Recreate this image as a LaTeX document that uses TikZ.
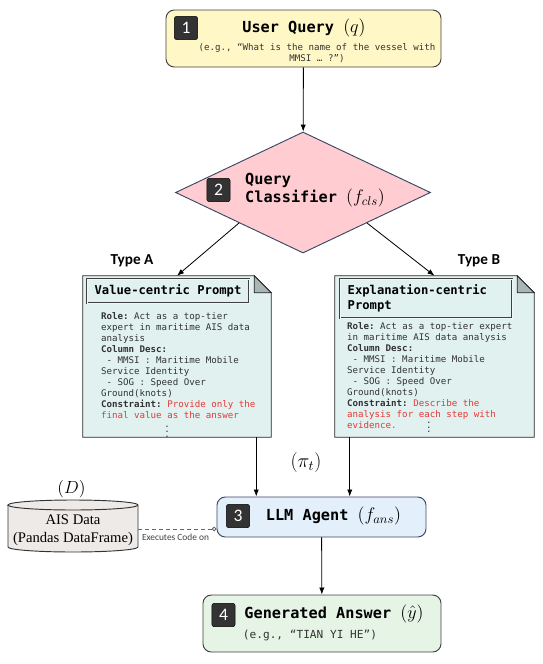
\RequirePackage{fix-cm}
\documentclass[tikz,border=0pt]{standalone}
\usepackage{fontspec}
\setmonofont{DejaVu Sans Mono}
\setsansfont{Carlito}
\newfontfamily\dbfont{Liberation Serif}
\usepackage{tikz}
\usetikzlibrary{arrows.meta, positioning, shapes.geometric}
\definecolor{queryfill}{HTML}{FFF8C6}
\definecolor{classfill}{HTML}{FFCCD2}
\definecolor{classline}{HTML}{3A4866}
\definecolor{sheetfill}{HTML}{E0F1F0}
\definecolor{foldfill}{HTML}{A9B6B6}
\definecolor{agentfill}{HTML}{E3F0FB}
\definecolor{answerfill}{HTML}{E6F4E6}
\definecolor{dbfill}{HTML}{EEEAE7}
\definecolor{hintred}{HTML}{E53935}
\definecolor{bodygray}{HTML}{333333}
% math in the stage titles is set a bit larger
\newcommand\stagemath[1]{{\fontsize{15.5}{16}\selectfont$#1$}}
\tikzset{
  stagebox/.style={
    draw=black!75,
    line width=0.8pt,
    rounded corners=0.25cm
  },
  badge/.style={
    fill=black!80,
    draw=black,
    rounded corners=2pt,
    minimum size=0.7cm,
    inner sep=0pt,
    text=white,
    font=\sffamily\fontsize{15}{15}\selectfont
  },
  headline/.style={
    inner sep=1pt,
    font=\ttfamily\bfseries\fontsize{13}{16}\selectfont
  },
  sheet/.style={
    minimum height=4.83cm,
    inner sep=0pt
  },
  sheettitle/.style={
    draw=black!75,
    line width=0.6pt,
    double=sheetfill!50!white,
    double distance=0.8pt,
    fill=sheetfill,
    font=\ttfamily\bfseries\fontsize{10.4}{13.2}\selectfont
  },
  sheetbody/.style={
    anchor=north west,
    inner sep=0pt,
    align=left,
    text=bodygray,
    font=\ttfamily\fontsize{7.8}{9.4}\selectfont
  },
  typelabel/.style={
    font=\sffamily\bfseries\fontsize{13}{15}\selectfont
  },
  arrow/.style={draw,line width=0.7pt,-{Latex[length=6pt,width=4.5pt]}}
}
% folded sheet drawn round a named node
\newcommand\drawsheet[1]{%
  \draw[fill=sheetfill, draw=black!85, line width=0.8pt]
    (#1.north west) -- ([xshift=-0.51cm]#1.north east)
    -- ([yshift=-0.51cm]#1.north east) -- (#1.south east)
    -- (#1.south west) -- cycle;
  \draw[fill=foldfill, draw=black!85, line width=0.8pt]
    ([xshift=-0.51cm]#1.north east)
    -- ([xshift=-0.51cm,yshift=-0.51cm]#1.north east)
    -- ([yshift=-0.51cm]#1.north east) -- cycle;
}
\begin{document}
\begin{tikzpicture}[x=0.03cm, y=-0.03cm, every edge/.style={arrow}]
  \useasboundingbox (0,0) rectangle (543,664);

  % 1: query
  \node (query) [stagebox, fill=queryfill, minimum width=8.25cm, minimum height=1.71cm] at (303.5,38.5) {};
  \node (badge1) [badge] at (186,28) {1};
  \node (querytitle) [headline] at (304,28) {User Query \stagemath{(q)}};
  \node (queryhint) [align=center, inner sep=0pt, text=bodygray, font=\ttfamily\fontsize{7.8}{9.3}\selectfont] at (317,53)
    {(e.g., “What is the name of the vessel with\\MMSI … ?”)};

  % 2: classifier
  \node (classify) [diamond, draw=classline, line width=0.8pt, fill=classfill,
    minimum width=7.65cm, minimum height=3.63cm, inner sep=0pt] at (303,192.5) {};
  \node (badge2) [badge] at (218.5,190) {2};
  \node (classtitle) [headline, anchor=west, align=left, inner sep=0pt] at (245,190)
    {Query\\Classifier \stagemath{(f_{cls})}};

  \node (typeA) [typelabel] at (132,261) {Type A};
  \node (typeB) [typelabel] at (479,261) {Type B};

  % prompt sheets
  \node (promptA) [sheet, minimum width=5.64cm] at (177,356.5) {};
  \drawsheet{promptA}
  \node (promptB) [sheet, minimum width=5.97cm] at (434.5,356.5) {};
  \drawsheet{promptB}

  \node (titleA) [sheettitle, minimum width=4.86cm, minimum height=0.72cm] at (168,291) {Value-centric Prompt};
  \node (titleB) [sheettitle, minimum width=5.16cm, minimum height=1.17cm, text width=4.7cm, align=left] at (426,298.5)
    {Explanation-centric\\Prompt};

  \node (bodyA) [sheetbody] at (101,312) {%
    \textbf{Role:} Act as a top-tier\\
    expert in maritime AIS data\\
    analysis\\
    \textbf{Column Desc:}\\
    \ - MMSI : Maritime Mobile\\
    Service Identity\\
    \ - SOG : Speed Over\\
    Ground(knots)\\
    \textbf{Constraint:} \textcolor{hintred}{Provide only the}\\
    \textcolor{hintred}{final value as the answer}\\
    \hspace*{54pt}$\vdots$};

  \node (bodyB) [sheetbody] at (347,322) {%
    \textbf{Role:} Act as a top-tier expert\\
    in maritime AIS data analysis\\
    \textbf{Column Desc:}\\
    \ - MMSI : Maritime Mobile\\
    Service Identity\\
    \ - SOG : Speed Over\\
    Ground(knots)\\
    \textbf{Constraint:} \textcolor{hintred}{Describe the}\\
    \textcolor{hintred}{analysis for each step with}\\
    \textcolor{hintred}{evidence.}\hspace*{25pt}\raisebox{-4pt}[0pt][0pt]{$\vdots$}};

  \node (policy) [font=\fontsize{17}{20}\selectfont] at (306,463) {$(\pi_t)$};

  % 3: agent
  \node (agent) [stagebox, draw=classline, fill=agentfill, minimum width=6.27cm, minimum height=1.2cm] at (321.5,517) {};
  \node (badge3) [badge] at (238,516) {3};
  \node (agenttitle) [headline] at (333.5,516) {LLM Agent \stagemath{(f_{ans})}};

  % data store
  \node (aisdata) [minimum width=3.9cm, minimum height=1.56cm, inner sep=0pt] at (73,526) {};
  \draw[fill=dbfill, draw=black!80, line width=0.8pt]
    (8,505) -- (8,547) arc[start angle=180, end angle=360, x radius=1.95cm, y radius=0.15cm]
    -- (138,505) arc[start angle=0, end angle=180, x radius=1.95cm, y radius=0.15cm] -- cycle;
  \draw[draw=black!80, line width=0.8pt]
    (8,505) arc[start angle=180, end angle=360, x radius=1.95cm, y radius=0.15cm];
  \node (aislabel) [align=center, font=\dbfont\fontsize{12.5}{15.5}\selectfont] at (73,530) {AIS Data\\(Pandas DataFrame)};
  \node (dblabel) [font=\fontsize{15}{18}\selectfont] at (71.5,489) {$(D)$};

  \coordinate (dbport) at (138,529);
  \draw[black!60, dashed, line width=0.8pt, -{Circle[open, length=4pt, width=4pt]}] (dbport) -- (dbport -| agent.west);
  \node (execlabel) [text=black!75, font=\sffamily\fontsize{8}{9}\selectfont] at (175.5,537) {Executes Code on};

  % 4: answer
  \node (answer) [stagebox, fill=answerfill, minimum width=7.14cm, minimum height=1.71cm] at (322,623.5) {};
  \node (badge4) [badge] at (223.5,615) {4};
  \node (answertitle) [headline] at (334,614) {Generated Answer \stagemath{(\hat{y})}};
  \node (answerhint) [inner sep=0pt, text=bodygray, font=\ttfamily\fontsize{9.5}{11}\selectfont] at (310,635) {(e.g., “TIAN YI HE”)};

  \path
  (query) edge (classify)
  (classify.south west) edge (promptA.north)
  (classify.south east) edge (promptB.north)
  (agent) edge (answer)
  ;
  \draw[arrow] ([xshift=-0.45cm]promptA.south east) -- ([xshift=-0.45cm]promptA.south east |- agent.north);
  \draw[arrow] ([xshift=0.45cm]promptB.south west) -- ([xshift=0.45cm]promptB.south west |- agent.north);
\end{tikzpicture}
\end{document}
